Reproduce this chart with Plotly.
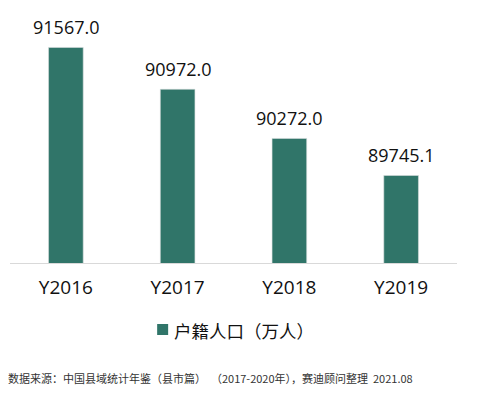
import plotly.graph_objects as go

categories = ["Y2016", "Y2017", "Y2018", "Y2019"]
values = [91567.0, 90972.0, 90272.0, 89745.1]
labels = ["91567.0", "90972.0", "90272.0", "89745.1"]
series_name = "户籍人口（万人）"
source_text = "数据来源：中国县域统计年鉴（县市篇）  （2017-2020年），赛迪顾问整理  2021.08"

FONT = "Open Sans, Noto Sans CJK SC, sans-serif"
CJK = "Noto Sans CJK SC, sans-serif"
BAR_COLOR = "#307569"

fig = go.Figure()
fig.add_trace(go.Bar(
    x=categories, y=values, name=series_name,
    marker=dict(color=BAR_COLOR, line=dict(color="#d8dedd", width=0.6)),
    width=0.31, showlegend=False,
))

for c, v, t in zip(categories, values, labels):
    fig.add_annotation(x=c, y=v, text=t, showarrow=False, xref="x", yref="y",
                       yanchor="bottom", yshift=6,
                       font=dict(family=FONT, size=18, color="#111111"))

# legend (manual, to match the tight spacing of the swatch and text)
fig.add_shape(type="rect", xref="paper", yref="paper",
              x0=0.3292, x1=0.3538, y0=-0.2927, y1=-0.2480,
              fillcolor=BAR_COLOR, line=dict(width=0))
fig.add_annotation(x=0.362, y=-0.2724, xref="paper", yref="paper", text=series_name,
                   showarrow=False, xanchor="left", yanchor="middle",
                   font=dict(family=CJK, size=17.5, color="#111111"))

fig.add_annotation(x=-0.008, y=-0.468, xref="paper", yref="paper",
                   text=source_text, showarrow=False, xanchor="left", yanchor="middle",
                   font=dict(family=CJK, size=11, color="#333333"))

fig.update_layout(
    width=491, height=388,
    margin=dict(l=1.5, r=41.5, t=9, b=133),
    paper_bgcolor="white", plot_bgcolor="white",
    font=dict(family=FONT, color="#111111"),
    showlegend=False,
    bargap=0.69,
)
fig.update_xaxes(showline=True, linecolor="#d9d9d9", linewidth=1, showgrid=False,
                 ticks="", tickfont=dict(family=FONT, size=19, color="#111111"),
                 ticklabelstandoff=7)
fig.update_yaxes(range=[88500, 92000], visible=False, showgrid=False)

fig.write_html("out.html")
